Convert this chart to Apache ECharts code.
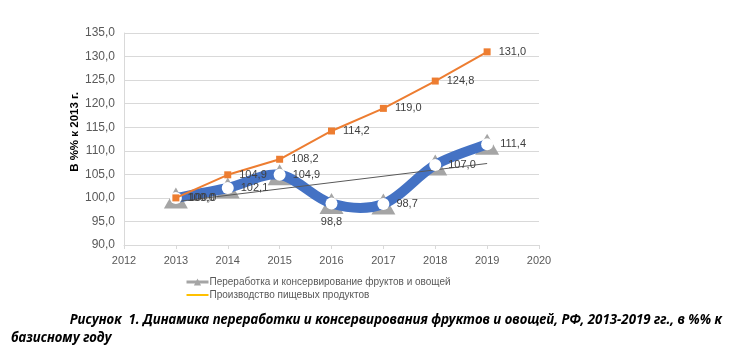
<!DOCTYPE html>
<html>
<head>
<meta charset="utf-8">
<script src="https://cdn.jsdelivr.net/npm/echarts@6/dist/echarts.min.js"></script>
<style>
    html, body { margin: 0; padding: 0; background: #fff; }
    #chart { width: 730px; height: 352px; }
</style>
</head>
<body>
<div id="chart"></div>
<script>
var years = [2013, 2014, 2015, 2016, 2017, 2018, 2019];
var processing = [100.0, 102.1, 104.9, 98.8, 98.7, 107.0, 111.4];
var foodProduction = [100.0, 104.9, 108.2, 114.2, 119.0, 124.8, 131.0];
var trendYears = [2013, 2019];
var trendValues = [99.2, 107.3];

var nameProcessing = 'Переработка и консервирование фруктов и овощей';
var nameFood = 'Производство пищевых продуктов';

function pairs(xs, ys) {
    var out = [];
    for (var i = 0; i < xs.length; i++) out.push([xs[i], ys[i]]);
    return out;
}
function fmt(v) {
    return v.toFixed(1).replace('.', ',');
}

// сглаженная линия как в Excel (кривая через точки, без "срезания" экстремумов)
function smoothPath(api) {
    var pts = [];
    for (var i = 0; i < years.length; i++) pts.push(api.coord([years[i], processing[i]]));
    var d = 'M' + pts[0][0] + ',' + pts[0][1];
    for (var i = 0; i < pts.length - 1; i++) {
        var p0 = pts[Math.max(i - 1, 0)], p1 = pts[i], p2 = pts[i + 1], p3 = pts[Math.min(i + 2, pts.length - 1)];
        var c1x = p1[0] + (p2[0] - p0[0]) / 6, c1y = p1[1] + (p2[1] - p0[1]) / 6;
        var c2x = p2[0] - (p3[0] - p1[0]) / 6, c2y = p2[1] - (p3[1] - p1[1]) / 6;
        d += ' C' + c1x + ',' + c1y + ' ' + c2x + ',' + c2y + ' ' + p2[0] + ',' + p2[1];
    }
    return d;
}

// подписи синей линии: 2016 под точкой, остальные справа
var blueData = pairs(years, processing).map(function (p, i) {
    return {
        value: p,
        label: { position: years[i] === 2016 ? 'bottom' : 'right', distance: 7 }
    };
});

var chart = echarts.init(document.getElementById('chart'));
var option = {
    animation: false,
    textStyle: { fontFamily: '"Liberation Sans", Arial, sans-serif' },
    grid: { left: 124, right: 191, top: 33, bottom: 107 },
    legend: {
        orient: 'vertical',
        left: 180,
        top: 272,
        itemGap: 3,
        itemWidth: 22,
        itemHeight: 9,
        textStyle: { fontSize: 10, color: '#595959', padding: [0, 0, 0, -4] },
        data: [
            { name: nameProcessing, lineStyle: { color: '#a5a5a5', width: 3, opacity: 1 } },
            { name: nameFood, itemStyle: { color: 'rgba(0,0,0,0)', borderWidth: 0 }, lineStyle: { color: '#ffc000', width: 2 } }
        ]
    },
    xAxis: {
        type: 'value',
        min: 2012,
        max: 2020,
        interval: 1,
        axisLine: { show: true, lineStyle: { color: '#d9d9d9' } },
        axisTick: { show: true, length: 4, lineStyle: { color: '#d9d9d9' } },
        splitLine: { show: false },
        axisLabel: { color: '#595959', fontSize: 11, margin: 10, formatter: function (v) { return String(v); } }
    },
    yAxis: {
        type: 'value',
        min: 90,
        max: 135,
        interval: 5,
        name: 'В %% к 2013 г.',
        nameLocation: 'middle',
        nameRotate: 90,
        nameGap: 43,
        nameMoveOverlap: false,
        nameTextStyle: { fontSize: 11.5, fontWeight: 'bold', color: '#000', padding: [0, 0, 0, 14] },
        axisLine: { show: true, lineStyle: { color: '#d9d9d9' } },
        axisTick: { show: false },
        splitLine: { lineStyle: { color: '#d9d9d9' } },
        axisLabel: { color: '#595959', fontSize: 12, margin: 9, formatter: function (v) { return fmt(v); } }
    },
    series: [
        {
            name: nameProcessing,
            type: 'line',
            z: 2,
            data: pairs(years, processing),
            symbol: 'triangle',
            symbolSize: [24, 21],
            itemStyle: { color: '#a5a5a5' },
            lineStyle: { color: '#a5a5a5', width: 3, opacity: 0 }
        },
        {
            name: 'blueLine',
            type: 'custom',
            z: 3,
            data: pairs(years, processing),
            renderItem: function (params, api) {
                if (params.dataIndex !== 0) return null;
                return {
                    type: 'path',
                    shape: { pathData: smoothPath(api) },
                    style: { fill: 'none', stroke: '#4472c4', lineWidth: 10 }
                };
            }
        },
        {
            name: 'trend',
            type: 'line',
            z: 4,
            data: pairs(trendYears, trendValues),
            symbol: 'none',
            lineStyle: { color: '#595959', width: 1 }
        },
        {
            name: 'blueMarkers',
            type: 'line',
            z: 5,
            data: blueData,
            symbol: 'circle',
            symbolSize: 12,
            itemStyle: { color: '#fff', borderColor: '#fff', borderWidth: 0 },
            lineStyle: { opacity: 0 },
            label: {
                show: true,
                fontSize: 11,
                color: '#404040',
                formatter: function (p) { return fmt(p.value[1]); }
            }
        },
        {
            name: nameFood,
            type: 'line',
            z: 6,
            data: pairs(years, foodProduction),
            symbol: 'rect',
            symbolSize: 7,
            itemStyle: { color: '#ed7d31' },
            lineStyle: { color: '#ed7d31', width: 2 },
            label: {
                show: true,
                position: 'right',
                distance: 8,
                fontSize: 11,
                color: '#404040',
                formatter: function (p) { return fmt(p.value[1]); }
            }
        }
    ],
    graphic: [
        {
            type: 'text',
            right: 8,
            top: 314,
            style: {
                text: 'Рисунок  1. Динамика переработки и консервирования фруктов и овощей, РФ, 2013-2019 гг., в %% к',
                font: 'italic bold 13.3px "Noto Sans", sans-serif',
                fill: '#000'
            }
        },
        {
            type: 'text',
            left: 11,
            top: 332,
            style: {
                text: 'базисному году',
                font: 'italic bold 13.3px "Noto Sans", sans-serif',
                fill: '#000'
            }
        }
    ]
};
chart.setOption(option);
</script>
</body>
</html>
